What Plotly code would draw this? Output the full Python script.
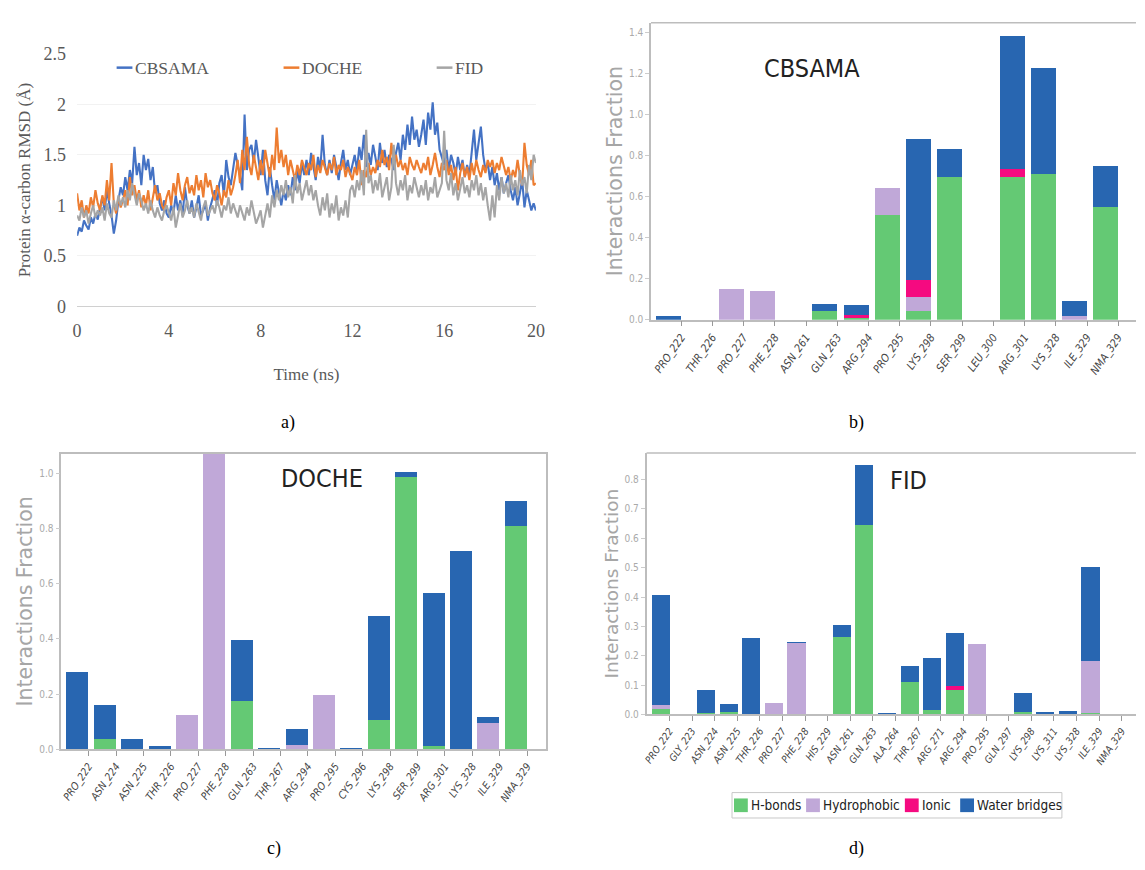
import plotly.graph_objects as go

# ---------------- Panel a: RMSD time series ----------------
time_step_ns = 0.1
time_ns = [round(i * time_step_ns, 1) for i in range(201)]

rmsd_cbsama = [
    0.70, 0.78, 0.74, 0.85, 0.80, 0.76, 0.88, 0.82, 0.92, 0.86,
    0.98, 1.08, 0.95, 1.15, 1.02, 0.90, 0.72, 0.85, 1.05, 1.18,
    1.10, 1.28, 1.15, 1.35, 1.22, 1.58, 1.30, 1.42, 1.20, 1.50,
    1.35, 1.46, 1.25, 1.38, 1.12, 1.20, 1.02, 0.95, 1.05, 0.92,
    0.88, 1.00, 0.92, 1.10, 0.95, 1.05, 0.90, 1.18, 1.00, 0.92,
    1.05, 0.88, 0.98, 1.10, 0.90, 0.95, 1.02, 0.85, 0.98, 1.08,
    1.15, 1.00, 1.22, 1.30, 1.10, 1.45, 1.28, 1.20, 1.38, 1.52,
    1.40, 1.30, 1.15, 1.90, 1.35, 1.55, 1.60, 1.42, 1.65, 1.50,
    1.30, 1.55, 1.25, 1.10, 1.38, 1.20, 1.05, 1.25, 1.12, 1.00,
    1.15, 1.05, 1.20, 1.10, 1.28, 1.15, 1.35, 1.22, 1.42, 1.30,
    1.45, 1.30, 1.52, 1.38, 1.25, 1.48, 1.35, 1.70, 1.40, 1.30,
    1.45, 1.32, 1.50, 1.38, 1.25, 1.42, 1.55, 1.35, 1.45, 1.30,
    1.40, 1.50, 1.35, 1.58, 1.45, 1.70, 1.38, 1.52, 1.40, 1.60,
    1.48, 1.35, 1.62, 1.42, 1.55, 1.38, 1.50, 1.45, 1.35, 1.52,
    1.62, 1.45, 1.70, 1.55, 1.80, 1.60, 1.88, 1.65, 1.75, 1.58,
    1.70, 1.85, 1.60, 1.92, 1.75, 2.02, 1.70, 1.82, 1.55, 1.48,
    1.40, 1.55, 1.35, 1.50, 1.42, 1.30, 1.48, 1.35, 1.45, 1.28,
    1.40, 1.30, 1.55, 1.75, 1.45, 1.60, 1.78, 1.50, 1.35, 1.42,
    1.25, 1.38, 1.20, 1.32, 1.15, 1.28, 1.12, 1.22, 1.30, 1.15,
    1.05, 1.18, 1.00, 1.12, 1.25, 0.98, 1.15, 1.05, 0.95, 1.02, 0.95,
]
rmsd_doche = [
    1.12, 0.95, 1.05, 0.88, 1.00, 0.92, 1.08, 0.98, 1.15, 1.02,
    0.95, 1.10, 1.00, 1.25, 1.05, 1.42, 1.02, 0.92, 1.08, 0.98,
    1.05, 1.15, 1.00, 1.28, 1.10, 1.20, 1.05, 1.15, 0.98, 1.10,
    1.00, 1.15, 0.95, 1.08, 1.20, 1.05, 1.12, 1.00, 0.95, 1.08,
    1.15, 1.00, 1.22, 1.10, 1.32, 1.15, 1.05, 1.20, 1.28, 1.12,
    1.20, 1.10, 1.30, 1.15, 1.25, 1.08, 1.32, 1.18, 1.25, 1.12,
    1.05, 1.20, 1.12, 1.00, 1.15, 1.08, 1.25, 1.10, 1.18, 1.30,
    1.45, 1.22, 1.55, 1.35, 1.68, 1.40, 1.30, 1.50, 1.38, 1.25,
    1.45, 1.30, 1.55, 1.40, 1.28, 1.50, 1.35, 1.77, 1.42, 1.55,
    1.38, 1.50, 1.30, 1.45, 1.35, 1.25, 1.40, 1.30, 1.45, 1.38,
    1.30, 1.42, 1.35, 1.50, 1.28, 1.40, 1.32, 1.45, 1.38, 1.30,
    1.42, 1.35, 1.48, 1.30, 1.40, 1.35, 1.45, 1.28, 1.38, 1.32,
    1.25, 1.38, 1.30, 1.45, 1.20, 1.35, 1.28, 1.42, 1.30, 1.38,
    1.32, 1.45, 1.38, 1.55, 1.40, 1.48, 1.35, 1.62, 1.42, 1.50,
    1.38, 1.45, 1.35, 1.42, 1.30, 1.48, 1.40, 1.35, 1.45, 1.38,
    1.32, 1.42, 1.35, 1.48, 1.30, 1.40, 1.52, 1.38, 1.28, 1.42,
    1.35, 1.45, 1.30, 1.40, 1.25, 1.38, 1.15, 1.32, 1.42, 1.28,
    1.38, 1.25, 1.42, 1.30, 1.45, 1.35, 1.28, 1.40, 1.32, 1.45,
    1.38, 1.45, 1.32, 1.42, 1.35, 1.48, 1.40, 1.30, 1.38, 1.25,
    1.35, 1.28, 1.45, 1.30, 1.20, 1.62, 1.40, 1.30, 1.45, 1.20, 1.22,
]
rmsd_fid = [
    0.90, 0.85, 0.98, 0.88, 0.95, 0.82, 0.92, 1.00, 0.88, 0.95,
    0.90, 0.98, 0.85, 1.02, 0.92, 0.88, 1.05, 0.95, 1.10, 1.00,
    1.08, 0.98, 1.15, 1.05, 1.22, 1.10, 1.00, 1.12, 1.05, 0.95,
    1.02, 0.92, 1.05, 0.95, 0.88, 0.98, 0.90, 0.85, 0.95, 1.00,
    0.92, 0.85, 0.98, 0.78, 0.90, 1.02, 0.88, 0.95, 1.05, 0.92,
    0.98, 0.88, 1.02, 0.92, 0.85, 0.98, 1.05, 0.90, 0.95, 1.00,
    0.92, 1.05, 0.98, 0.88, 1.00, 0.95, 1.08, 0.92, 1.02, 0.95,
    0.88, 1.00, 0.92, 0.85, 0.98, 0.90, 1.05, 0.95, 0.82, 0.88,
    0.95, 0.78, 0.90, 1.02, 0.88, 1.10, 0.98, 1.15, 1.05, 1.20,
    1.10, 1.25, 1.08, 1.18, 1.02, 1.30, 1.12, 1.22, 1.05, 1.15,
    1.25, 1.10, 1.20, 1.05, 1.15, 1.00, 0.90, 1.08, 0.95, 1.12,
    0.88, 1.02, 0.92, 1.10, 0.85, 0.98, 0.90, 1.05, 0.88, 1.15,
    1.20, 1.08, 1.25, 1.15, 1.35, 1.10, 1.75, 1.22, 1.30, 1.12,
    1.25, 1.15, 1.32, 1.08, 1.20, 1.28, 1.05, 1.18, 1.60, 1.22,
    1.10, 1.25, 1.15, 1.30, 1.05, 1.20, 1.12, 1.28, 1.18, 1.08,
    1.20, 1.10, 1.25, 1.05, 1.18, 1.12, 1.28, 1.08, 1.15, 1.22,
    1.74, 1.25, 1.15, 1.32, 1.10, 1.22, 1.05, 1.18, 1.28, 1.12,
    1.20, 1.08, 1.25, 1.15, 1.30, 1.10, 1.22, 1.05, 1.18, 1.00,
    0.85, 1.10, 0.88, 1.20, 1.05, 1.28, 1.12, 1.22, 1.08, 1.30,
    1.15, 1.25, 1.10, 1.35, 1.20, 1.28, 1.12, 1.40, 1.25, 1.50, 1.42,
]
rmsd_ticks = [0, 4, 8, 12, 16, 20]
rmsd_names = ["CBSAMA", "DOCHE", "FID"]
rmsd_colors = ["#4472C4", "#ED7D31", "#A5A5A5"]

# ---------------- Panel b: CBSAMA interactions ----------------
b_residues = ["PRO_222", "THR_226", "PRO_227", "PHE_228", "ASN_261", "GLN_263", "ARG_294",
              "PRO_295", "LYS_298", "SER_299", "LEU_300", "ARG_301", "LYS_328", "ILE_329", "NMA_329"]
b_hbonds = [0, 0, 0, 0, 0, 0.045, 0.010, 0.51, 0.045, 0.70, 0, 0.70, 0.71, 0, 0.55]
b_hydrophobic = [0, 0, 0.152, 0.141, 0, 0, 0, 0.135, 0.067, 0, 0, 0, 0, 0.020, 0]
b_ionic = [0, 0, 0, 0, 0, 0, 0.015, 0, 0.083, 0, 0, 0.035, 0, 0, 0]
b_water = [0.022, 0, 0, 0, 0, 0.035, 0.050, 0, 0.69, 0.135, 0, 0.65, 0.52, 0.075, 0.20]

# ---------------- Panel c: DOCHE interactions ----------------
c_residues = ["PRO_222", "ASN_224", "ASN_225", "THR_226", "PRO_227", "PHE_228", "GLN_263", "THR_267",
              "ARG_294", "PRO_295", "CYS_296", "LYS_298", "SER_299", "ARG_301", "LYS_328", "ILE_329", "NMA_329"]
c_hbonds = [0, 0.038, 0, 0, 0, 0, 0.175, 0, 0, 0, 0, 0.108, 0.988, 0.015, 0, 0, 0.81]
c_hydrophobic = [0, 0, 0, 0, 0.127, 1.12, 0, 0, 0.018, 0.198, 0, 0, 0, 0, 0, 0.097, 0]
c_ionic = [0] * 17
c_water = [0.28, 0.125, 0.038, 0.015, 0, 0, 0.222, 0.006, 0.056, 0, 0.006, 0.375, 0.018, 0.553, 0.72, 0.023, 0.09]

# ---------------- Panel d: FID interactions ----------------
d_residues = ["PRO_222", "GLY_223", "ASN_224", "ASN_225", "THR_226", "PRO_227", "PHE_228", "HIS_229",
              "ASN_261", "GLN_263", "ALA_264", "THR_267", "ARG_271", "ARG_294", "PRO_295", "GLN_297",
              "LYS_298", "LYS_311", "LYS_328", "ILE_329", "NMA_329"]
d_hbonds = [0.018, 0, 0.005, 0.008, 0, 0, 0, 0, 0.264, 0.645, 0, 0.112, 0.016, 0.084, 0, 0,
            0.010, 0, 0, 0.006, 0]
d_hydrophobic = [0.016, 0, 0, 0, 0, 0.039, 0.244, 0, 0, 0, 0, 0, 0, 0, 0.24, 0,
                 0, 0, 0, 0.178, 0]
d_ionic = [0, 0, 0, 0, 0, 0, 0, 0, 0, 0, 0, 0, 0, 0.013, 0, 0, 0, 0, 0, 0, 0]
d_water = [0.372, 0, 0.078, 0.027, 0.262, 0, 0.003, 0, 0.041, 0.205, 0.005, 0.054, 0.175, 0.18, 0, 0,
           0.065, 0.009, 0.012, 0.32, 0]

interaction_names = ["H-bonds", "Hydrophobic", "Ionic", "Water bridges"]
interaction_colors = ["#64C974", "#C0A8D8", "#F50A80", "#2866B1"]

W, H = 1145, 870
fig = go.Figure()

# ---- panel a lines ----
for name, vals, col in zip(rmsd_names, [rmsd_cbsama, rmsd_doche, rmsd_fid], rmsd_colors):
    fig.add_trace(go.Scatter(x=time_ns, y=vals, mode="lines", name=name,
                             line=dict(color=col, width=2.1),
                             xaxis="x", yaxis="y", showlegend=False))

# ---- bar panels ----
panels = [
    ("x2", "y2", b_residues, [b_hbonds, b_hydrophobic, b_ionic, b_water]),
    ("x3", "y3", c_residues, [c_hbonds, c_hydrophobic, c_ionic, c_water]),
    ("x4", "y4", d_residues, [d_hbonds, d_hydrophobic, d_ionic, d_water]),
]
for xa, ya, residues, series in panels:
    idx = list(range(len(residues)))
    for name, vals, col in zip(interaction_names, series, interaction_colors):
        fig.add_trace(go.Bar(x=idx, y=vals, name=name, marker=dict(color=col, line=dict(width=0)),
                             offset=-0.8, width=0.8, xaxis=xa, yaxis=ya, showlegend=False))


def px_dom_x(a, b):
    return [a / W, b / W]


def px_dom_y(top, bottom):
    return [1 - bottom / H, 1 - top / H]


def px(xp):
    return xp / W


def py(yp):
    return 1 - yp / H


serif = "Liberation Serif, Times New Roman, serif"
grey_txt = "#595959"
bar_frame = "#bdbdbd"
cond = "DejaVu Sans Condensed, DejaVu Sans"
ytick_font = dict(family=cond, size=10, color="#aaaaaa")


def ytitle_font(sz):
    return dict(family="DejaVu Sans, Verdana, sans-serif", size=sz, color="#a6a6a6")


def xtick_font(sz):
    return dict(family=cond, size=sz, color="#444444", style="italic")


fig.update_layout(
    width=W, height=H, margin=dict(l=0, r=0, t=0, b=0),
    paper_bgcolor="white", plot_bgcolor="white",
    barmode="stack", bargap=0, showlegend=False,
    xaxis=dict(domain=px_dom_x(73, 537.5), anchor="y", range=[0, 20], tickvals=rmsd_ticks,
               showgrid=False, zeroline=False, showline=True, linecolor="#d0d0d0", linewidth=1,
               ticks="", tickfont=dict(family=serif, size=18, color=grey_txt), ticklabelstandoff=8,
               title=dict(text="Time (ns)", font=dict(family=serif, size=17, color=grey_txt), standoff=28)),
    yaxis=dict(domain=px_dom_y(45, 303.3), anchor="x", range=[0, 2.5], dtick=0.5,
               showgrid=True, gridcolor="#f2f2f2", zeroline=False, showline=False,
               tickfont=dict(family=serif, size=18, color=grey_txt), ticklabelstandoff=10,
               title=dict(text="Protein α-carbon RMSD (Å)", font=dict(family=serif, size=17, color=grey_txt),
                          standoff=8)),
    xaxis2=dict(domain=px_dom_x(654, 1145), anchor="y2", range=[-0.97, 14.57],
                tickvals=list(range(len(b_residues))), ticktext=b_residues, tickangle=-55,
                tickfont=xtick_font(11), showgrid=False, zeroline=False,
                showline=True, linecolor=bar_frame, linewidth=1.5,
                ticks="outside", ticklen=5, tickcolor="#999999"),
    yaxis2=dict(domain=px_dom_y(13, 317), anchor="x2", range=[0, 1.449], dtick=0.2, tickformat=".1f",
                showgrid=False, zeroline=False, showline=True, linecolor=bar_frame, linewidth=1.5,
                ticks="outside", ticklen=4, tickcolor="#cccccc", tickfont=ytick_font,
                title=dict(text="Interactions Fraction", font=ytitle_font(20.5), standoff=1)),
    xaxis3=dict(domain=px_dom_x(57, 548), anchor="y3", range=[-1, 16.7],
                tickvals=list(range(len(c_residues))), ticktext=c_residues, tickangle=-55,
                tickfont=xtick_font(10.5), showgrid=False, zeroline=False,
                showline=True, mirror=True, linecolor=bar_frame, linewidth=1.5,
                ticks="outside", ticklen=5, tickcolor="#999999"),
    yaxis3=dict(domain=px_dom_y(454, 756.7), anchor="x3", range=[0, 1.071], dtick=0.2, tickformat=".1f",
                showgrid=False, zeroline=False, showline=True, mirror=True, linecolor=bar_frame, linewidth=1.5,
                ticks="outside", ticklen=4, tickcolor="#cccccc", tickfont=ytick_font,
                title=dict(text="Interactions Fraction", font=ytitle_font(20.5), standoff=1)),
    xaxis4=dict(domain=px_dom_x(649.5, 1145), anchor="y4", range=[-1.01, 20.63],
                tickvals=list(range(len(d_residues))), ticktext=d_residues, tickangle=-55,
                tickfont=xtick_font(10), showgrid=False, zeroline=False,
                showline=True, linecolor=bar_frame, linewidth=1.5,
                ticks="outside", ticklen=5, tickcolor="#999999"),
    yaxis4=dict(domain=px_dom_y(453.3, 721), anchor="x4", range=[0, 0.891], dtick=0.1, tickformat=".1f",
                showgrid=False, zeroline=False, showline=True, linecolor=bar_frame, linewidth=1.5,
                ticks="outside", ticklen=4, tickcolor="#cccccc", tickfont=ytick_font,
                title=dict(text="Interactions Fraction", font=ytitle_font(18.5), standoff=1)),
)

# top frame lines of panels b and d (right edge lies beyond the page)
for xa in ["x2", "x4"]:
    fig.add_shape(type="line", xref=f"{xa} domain", yref=f"{xa.replace('x', 'y')} domain",
                  x0=0, x1=1, y0=1, y1=1, line=dict(color=bar_frame, width=1.5))

# ---- panel a legend (line sample + label) ----
legend_a_x = [113, 282, 437]
for name, col, x0 in zip(rmsd_names, rmsd_colors, legend_a_x):
    fig.add_shape(type="line", xref="paper", yref="paper", x0=px(x0), x1=px(x0 + 16),
                  y0=py(59), y1=py(59), line=dict(color=col, width=2.5))
    fig.add_annotation(text=name, x=px(x0 + 17), y=py(59.5), xref="paper", yref="paper",
                       showarrow=False, xanchor="left", yanchor="middle",
                       font=dict(family=serif, size=17.5, color=grey_txt))

# ---- panel d legend (boxed, squares + labels) ----
fig.add_shape(type="rect", xref="paper", yref="paper", x0=px(736), x1=px(1070), y0=py(827), y1=py(801),
              line=dict(color="#c8c8c8", width=1), fillcolor="white", layer="above")
legend_d_sq = [738, 811, 911, 967]
for name, col, x0 in zip(interaction_names, interaction_colors, legend_d_sq):
    fig.add_shape(type="rect", xref="paper", yref="paper", x0=px(x0), x1=px(x0 + 14),
                  y0=py(821), y1=py(807), line=dict(width=0), fillcolor=col, layer="above")
    fig.add_annotation(text=name, x=px(x0 + 15), y=py(814), xref="paper", yref="paper",
                       showarrow=False, xanchor="left", yanchor="middle",
                       font=dict(family=cond, size=13.5, color="#222222"))

# panel titles
for txt, xp, yp in [("CBSAMA", 817, 60), ("DOCHE", 321, 480), ("FID", 915, 482)]:
    fig.add_annotation(text=txt, x=px(xp), y=py(yp), xref="paper", yref="paper",
                       showarrow=False, xanchor="center", yanchor="middle",
                       font=dict(family=cond, size=25, color="#222222"))

# panel letters
for txt, xp, yp in [("a)", 287, 422), ("b)", 862, 422), ("c)", 272, 858), ("d)", 862, 858)]:
    fig.add_annotation(text=txt, x=px(xp), y=py(yp), xref="paper", yref="paper",
                       showarrow=False, xanchor="center", yanchor="middle",
                       font=dict(family=serif, size=18, color="#000000"))

fig.write_html("out.html", config={"displayModeBar": False},
               post_script="document.body.style.margin='0';document.body.style.overflow='hidden';")
